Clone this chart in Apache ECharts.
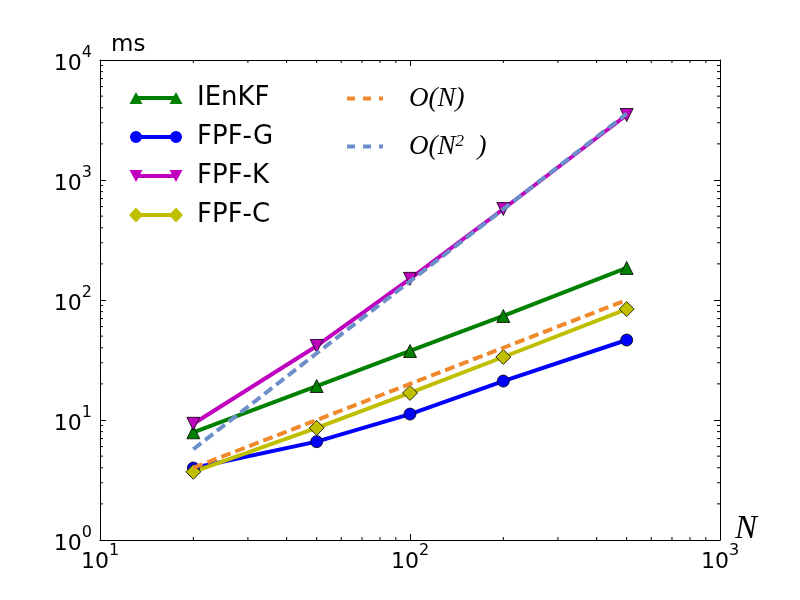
<!DOCTYPE html>
<html>
<head>
<meta charset="utf-8">
<script src="https://cdn.jsdelivr.net/npm/echarts@6/dist/echarts.min.js"></script>
<style>
  html, body { margin: 0; padding: 0; background: #fff; }
  #chart { width: 800px; height: 600px; }
</style>
</head>
<body>
<div id="chart"></div>
<script>
// ensemble size N
var sizes = [20, 50, 100, 200, 500];

// run time in ms
var ienkf = [7.9, 19.2, 37.6, 73.6, 185];
var fpfG  = [3.98, 6.6, 11.2, 21.1, 46.4];
var fpfK  = [9.3, 41.4, 150, 573, 3480];
var fpfC  = [3.7, 8.6, 16.8, 33.5, 84];
var orderN  = [4, 10, 20, 40, 100];
var orderN2 = [5.7, 36, 143, 571, 3571];

// minor tick positions of the log axes
var xMinor = [20, 30, 40, 50, 60, 70, 80, 90, 200, 300, 400, 500, 600, 700, 800, 900];
var yMinor = [2, 3, 4, 5, 6, 7, 8, 9, 20, 30, 40, 50, 60, 70, 80, 90,
              200, 300, 400, 500, 600, 700, 800, 900, 2000, 3000, 4000, 5000, 6000, 7000, 8000, 9000];

var FONT = 'DejaVu Sans';
var MATH = 'Liberation Serif';

function pairs(ys) {
  return sizes.map(function (n, i) { return [n, ys[i]]; });
}

// legend icons: line with a marker at each end (matplotlib style)
var anchor = 'M0,0 L0,0 M54,16 L54,16 ';
var bar = 'M7,6 L47,6 L47,10 L7,10 Z ';
var icons = {
  up: 'path://' + anchor + bar + 'M0.5,14 L7,2 L13.5,14 Z M40.5,14 L47,2 L53.5,14 Z',
  circle: 'path://' + anchor + bar + 'M1,8 A6,6 0 1 1 13,8 A6,6 0 1 1 1,8 Z M41,8 A6,6 0 1 1 53,8 A6,6 0 1 1 41,8 Z',
  down: 'path://' + anchor + bar + 'M0.5,2 L13.5,2 L7,14 Z M40.5,2 L53.5,2 L47,14 Z',
  diamond: 'path://' + anchor + bar + 'M0,8 L7,0.5 L14,8 L7,15.5 Z M40,8 L47,0.5 L54,8 L47,15.5 Z',
  dash: 'path://M0,0 L8,0 L8,4 L0,4 Z M16,0 L24,0 L24,4 L16,4 Z M32,0 L36,0 L36,4 L32,4 Z'
};

function supLabel(v) {
  return '{b|10}{s|' + Math.round(Math.log10(v)) + '}';
}
var labelRich = {
  b: { fontFamily: FONT, fontSize: 22, color: '#000', lineHeight: 30, verticalAlign: 'bottom' },
  s: { fontFamily: FONT, fontSize: 16, color: '#000', lineHeight: 16, verticalAlign: 'top' }
};

// empty scatter placeholders carry the legend icons
function legendKey(name, color, icon) {
  return {
    name: name,
    type: 'scatter',
    data: [],
    symbol: icon,
    itemStyle: { color: color, opacity: 1 },
    silent: true
  };
}

function dataSeries(name, ys, color, symbol, size, rotate) {
  return {
    name: name,
    type: 'line',
    data: pairs(ys),
    symbol: symbol,
    symbolSize: size,
    symbolRotate: rotate || 0,
    showAllSymbol: true,
    lineStyle: { color: color, width: 4 },
    itemStyle: { color: color, borderColor: '#000', borderWidth: 0.8 },
    emphasis: { disabled: true },
    animation: false,
    z: 3
  };
}

function dashSeries(name, ys, color) {
  return {
    name: name,
    type: 'line',
    data: pairs(ys),
    symbol: 'none',
    lineStyle: { color: color, width: 4, type: [10, 5] },
    itemStyle: { color: color },
    emphasis: { disabled: true },
    animation: false,
    z: 4
  };
}

var chart = echarts.init(document.getElementById('chart'), null, { renderer: 'canvas' });

var option = {
  backgroundColor: '#fff',
  animation: false,
  grid: { left: 100, right: 80, top: 60, bottom: 60, containLabel: false, outerBoundsMode: 'none' },
  legend: [{
    orient: 'vertical',
    left: 124,
    top: 80,
    itemWidth: 54,
    itemHeight: 16,
    itemGap: 13,
    itemStyle: { borderWidth: 0, opacity: 1 },
    textStyle: { fontFamily: FONT, fontSize: 26, color: '#000', lineHeight: 25.5, padding: [0, 0, 0, 9] },
    data: [
      { name: 'IEnKF', icon: icons.up },
      { name: 'FPF-G', icon: icons.circle },
      { name: 'FPF-K', icon: icons.down },
      { name: 'FPF-C', icon: icons.diamond }
    ],
    selectedMode: false
  }, {
    orient: 'vertical',
    left: 342,
    top: 80,
    itemWidth: 36,
    itemHeight: 4,
    itemGap: 21,
    itemStyle: { borderWidth: 0, opacity: 1 },
    textStyle: {
      fontFamily: MATH, fontSize: 27, fontStyle: 'italic', color: '#000', lineHeight: 26, padding: [0, 0, 0, 21],
      rich: {
        i: { fontFamily: MATH, fontSize: 27, fontStyle: 'italic', color: '#000', lineHeight: 26 },
        s: { fontFamily: MATH, fontSize: 17, color: '#000', lineHeight: 15, verticalAlign: 'top' }
      }
    },
    formatter: function (name) {
      if (name === 'O(N^2)') return '{i|O(N}{s|2}{i|  )}';
      return '{i|' + name + '}';
    },
    data: [
      { name: 'O(N)', icon: icons.dash },
      { name: 'O(N^2)', icon: icons.dash }
    ],
    selectedMode: false
  }],
  xAxis: [{
    type: 'log',
    logBase: 10,
    min: 10,
    max: 1000,
    name: 'N',
    nameLocation: 'end',
    nameGap: 15,
    nameMoveOverlap: false,
    nameTextStyle: { fontFamily: MATH, fontStyle: 'italic', fontSize: 33, color: '#000', verticalAlign: 'bottom', lineHeight: 22 },
    axisLine: { show: true, lineStyle: { color: '#000', width: 1 } },
    axisTick: { show: true, inside: true, length: 6, lineStyle: { color: '#000' } },
    axisLabel: { show: true, margin: 3, fontFamily: FONT, fontSize: 22, color: '#000', formatter: supLabel, rich: labelRich },
    splitLine: { show: false }
  }, {
    type: 'log',
    logBase: 10,
    min: 10,
    max: 1000,
    position: 'top',
    axisLine: { show: true, lineStyle: { color: '#000', width: 1 } },
    axisTick: { show: true, inside: true, length: 6, lineStyle: { color: '#000' } },
    axisLabel: { show: false },
    splitLine: { show: false }
  }],
  yAxis: [{
    type: 'log',
    logBase: 10,
    min: 1,
    max: 10000,
    name: 'ms',
    nameLocation: 'end',
    nameGap: 3,
    nameMoveOverlap: false,
    nameTextStyle: { fontFamily: FONT, fontSize: 23, color: '#000', align: 'left', padding: [0, 0, 0, 11] },
    axisLine: { show: true, lineStyle: { color: '#000', width: 1 } },
    axisTick: { show: true, inside: true, length: 6, lineStyle: { color: '#000' } },
    axisLabel: { show: true, margin: 8, fontFamily: FONT, fontSize: 22, color: '#000', formatter: supLabel, rich: labelRich },
    splitLine: { show: false }
  }, {
    type: 'log',
    logBase: 10,
    min: 1,
    max: 10000,
    position: 'right',
    axisLine: { show: true, lineStyle: { color: '#000', width: 1 } },
    axisTick: { show: true, inside: true, length: 6, lineStyle: { color: '#000' } },
    axisLabel: { show: false },
    splitLine: { show: false }
  }],
  series: [
    legendKey('IEnKF', '#008000', icons.up),
    legendKey('FPF-G', '#0000ff', icons.circle),
    legendKey('FPF-K', '#bf00bf', icons.down),
    legendKey('FPF-C', '#bfbf00', icons.diamond),
    legendKey('O(N)', '#f0882c', icons.dash),
    legendKey('O(N^2)', '#6d8fc9', icons.dash),
    dataSeries('IEnKF', ienkf, '#008000', 'triangle', 13),
    dataSeries('FPF-G', fpfG, '#0000ff', 'circle', 12),
    dataSeries('FPF-K', fpfK, '#bf00bf', 'triangle', 13, 180),
    dataSeries('FPF-C', fpfC, '#bfbf00', 'diamond', 15),
    dashSeries('O(N)', orderN, '#f0882c'),
    dashSeries('O(N^2)', orderN2, '#6d8fc9'),
    {
      // minor ticks on bottom and top
      type: 'custom',
      silent: true,
      clip: false,
      data: xMinor.map(function (v) { return [v, 1]; }),
      renderItem: function (params, api) {
        var v = api.value(0);
        var b = api.coord([v, 1]);
        var t = api.coord([v, 10000]);
        return {
          type: 'group',
          children: [
            { type: 'line', shape: { x1: b[0], y1: b[1], x2: b[0], y2: b[1] - 3 }, style: { stroke: '#000', lineWidth: 1 } },
            { type: 'line', shape: { x1: t[0], y1: t[1], x2: t[0], y2: t[1] + 3 }, style: { stroke: '#000', lineWidth: 1 } }
          ]
        };
      },
      animation: false,
      z: 5
    },
    {
      // minor ticks on left and right
      type: 'custom',
      silent: true,
      clip: false,
      data: yMinor.map(function (v) { return [10, v]; }),
      renderItem: function (params, api) {
        var v = api.value(1);
        var l = api.coord([10, v]);
        var r = api.coord([1000, v]);
        return {
          type: 'group',
          children: [
            { type: 'line', shape: { x1: l[0], y1: l[1], x2: l[0] + 3, y2: l[1] }, style: { stroke: '#000', lineWidth: 1 } },
            { type: 'line', shape: { x1: r[0], y1: r[1], x2: r[0] - 3, y2: r[1] }, style: { stroke: '#000', lineWidth: 1 } }
          ]
        };
      },
      animation: false,
      z: 5
    }
  ]
};

chart.setOption(option);
</script>
</body>
</html>
